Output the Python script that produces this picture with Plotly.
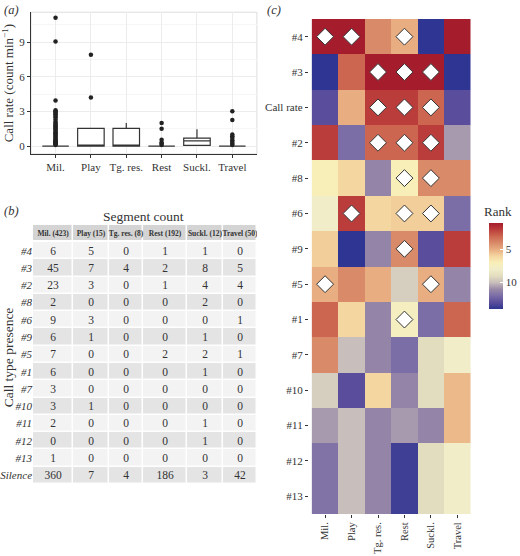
import plotly.graph_objects as go

# ---- panel (a): call rate per behaviour ----
behaviours = ["Mil.", "Play", "Tg. res.", "Rest", "Suckl.", "Travel"]
box_q1 = [0, 0, 0, 0, 0.06, 0]
box_median = [0, 0.05, 0.05, 0, 0.44, 0]
box_q3 = [0, 1.52, 1.52, 0, 0.68, 0]
box_low = [0, 0, 0, 0, 0, 0]
box_high = [0, 1.52, 2.0, 0, 1.46, 0]

mil_out = [11.1, 9.05, 3.95, 3.1, 3.0, 2.9, 2.8, 2.7, 2.6, 2.5, 2.3, 2.1, 2.0, 1.9,
           1.8, 1.7, 1.6, 1.5, 1.4, 1.3, 1.2, 1.1, 1.0, 0.9, 0.8, 0.7, 0.6, 0.5,
           0.45, 0.4, 0.35, 0.3, 0.25, 0.2, 0.15, 0.1]
play_out = [7.9, 4.2]
tgres_out = []
rest_out = [2.0, 1.5, 0.55, 0.3, 0.2, 0.1]
suckl_out = []
travel_out = [3.0, 2.25, 1.0, 0.85, 0.7, 0.5, 0.35, 0.2, 0.1]

# ---- panel (b): segment counts ----
table_cols = ["Mil. (423)", "Play (15)", "Tg. res. (8)", "Rest (192)", "Suckl. (12)", "Travel (50)"]
table_rows = ["#4", "#3", "#2", "#8", "#6", "#9", "#5", "#1", "#7", "#10", "#11", "#12", "#13", "Silence"]
cnt_mil = [6, 45, 23, 2, 9, 6, 7, 6, 3, 3, 2, 0, 1, 360]
cnt_play = [5, 7, 3, 0, 3, 1, 0, 0, 0, 1, 0, 0, 0, 7]
cnt_tgres = [0, 4, 0, 0, 0, 0, 0, 0, 0, 0, 0, 0, 0, 4]
cnt_rest = [1, 2, 1, 0, 0, 0, 2, 0, 0, 0, 0, 0, 0, 186]
cnt_suckl = [1, 8, 4, 2, 0, 1, 2, 1, 0, 0, 1, 1, 0, 3]
cnt_travel = [0, 5, 4, 0, 1, 0, 1, 0, 0, 0, 0, 0, 0, 42]
col_edges = [0, 40.5, 76.5, 110, 154, 190.5, 224]  # table column widths (layout)

# ---- panel (c): rank heatmap ----
rank_rows = ["#4", "#3", "Call rate", "#2", "#8", "#6", "#9", "#5", "#1", "#7", "#10", "#11", "#12", "#13"]
rank_mil = [1, 14, 13, 2, 7, 8, 5.8, 5, 3, 4, 9.5, 10.7, 11.8, 11.8]
rank_play = [1, 3, 5, 12, 6, 2, 14, 4, 6, 10, 13, 10, 10, 10]
rank_tgres = [4, 1, 2, 3, 11.2, 6, 11.2, 5, 11.2, 11.2, 6, 11.2, 11.2, 11.2]
rank_rest = [5, 1, 2, 3, 7, 5.8, 4, 9.5, 7.5, 12, 11.2, 10.7, 13.6, 13.6]
rank_suckl = [14, 1, 3, 2, 4, 5.8, 13, 5, 12, 9, 9, 11.2, 9, 9]
rank_travel = [1, 14, 13, 10.7, 4, 12, 2, 11.2, 3, 8, 5.3, 5.3, 8, 8]
diamond_row = ["#4", "#4", "#4", "#3", "#3", "#3", "Call rate", "Call rate", "Call rate",
               "#2", "#2", "#2", "#8", "#8", "#6", "#6", "#6", "#9", "#5", "#5", "#1"]
diamond_col = ["Mil.", "Play", "Rest", "Tg. res.", "Rest", "Suckl.", "Tg. res.", "Rest", "Suckl.",
               "Tg. res.", "Rest", "Suckl.", "Rest", "Suckl.", "Play", "Rest", "Suckl.", "Rest",
               "Mil.", "Suckl.", "Rest"]
rank_ticks = [5, 10]

serif = "Liberation Serif"
txt = "#333333"

rank_scale = [[0.0, "#a51d2d"], [1/13, "#bb3d3b"], [2/13, "#cc6650"], [3/13, "#d98a68"],
              [4/13, "#e8ad80"], [5/13, "#f4d6a0"], [6/13, "#f8eeb8"], [7/13, "#f0edc8"],
              [8/13, "#e3ddc0"], [9/13, "#c8bebc"], [10/13, "#9a8aa8"], [11/13, "#7b6da6"],
              [12/13, "#5a4e9c"], [1.0, "#2e3592"]]

fig = go.Figure()

# boxes
fig.add_trace(go.Box(x=behaviours, q1=box_q1, median=box_median, q3=box_q3,
                     lowerfence=box_low, upperfence=box_high, width=0.75, whiskerwidth=0,
                     fillcolor="white", line=dict(color="#333333", width=1.2),
                     boxpoints=False, xaxis="x", yaxis="y", showlegend=False,
                     hoverinfo="skip"))
out_x, out_y = [], []
for cat, vals in zip(behaviours, [mil_out, play_out, tgres_out, rest_out, suckl_out, travel_out]):
    out_x += [cat] * len(vals)
    out_y += vals
fig.add_trace(go.Scatter(x=out_x, y=out_y, mode="markers", xaxis="x", yaxis="y",
                         marker=dict(color="#222222", size=4.5), showlegend=False))

# table body + header as two text heatmaps
n = len(table_rows)
counts = [list(r) for r in zip(cnt_mil, cnt_play, cnt_tgres, cnt_rest, cnt_suckl, cnt_travel)]
stripes = [[i % 2] * 6 for i in range(n)]
fig.add_trace(go.Heatmap(x=col_edges, y=table_rows, z=stripes, text=counts,
                         texttemplate="%{text}", zmin=0, zmax=1,
                         colorscale=[[0, "#f3f3f3"], [1, "#e4e4e4"]], showscale=False,
                         xgap=1.5, ygap=1.5, xaxis="x3", yaxis="y3", hoverinfo="skip",
                         textfont=dict(family=serif, size=11.5, color=txt)))
fig.add_trace(go.Heatmap(x=col_edges, y=["header"], z=[[0] * 6],
                         text=[["<b>%s</b>" % c for c in table_cols]],
                         texttemplate="%{text}", zmin=0, zmax=1,
                         colorscale=[[0, "#d4d4d4"], [1, "#d4d4d4"]], showscale=False,
                         xgap=1.5, xaxis="x4", yaxis="y4", hoverinfo="skip",
                         textfont=dict(family=serif, size=7.5, color=txt)))

# rank heatmap (negated so rank 1 sits at the top of the colour bar)
rank_z = [[-v for v in r] for r in zip(rank_mil, rank_play, rank_tgres, rank_rest, rank_suckl, rank_travel)]
fig.add_trace(go.Heatmap(
    x=behaviours, y=rank_rows, z=rank_z, zmin=-14, zmax=-1,
    colorscale=rank_scale, reversescale=True, xaxis="x2", yaxis="y2", hoverinfo="skip",
    colorbar=dict(x=0.9404, xanchor="left", y=0.522, yanchor="middle", len=0.155,
                  thickness=14, outlinewidth=0, xpad=0, ypad=0,
                  tickvals=[-t for t in rank_ticks], ticktext=[str(t) for t in rank_ticks],
                  ticks="inside", tickcolor="white", ticklen=3,
                  tickfont=dict(family=serif, size=11, color=txt))))
fig.add_trace(go.Scatter(x=diamond_col, y=diamond_row, mode="markers", xaxis="x2", yaxis="y2",
                         marker=dict(symbol="diamond", size=13, color="white",
                                     line=dict(color="#333333", width=1)),
                         showlegend=False))

axfont = dict(family=serif, size=11, color=txt)
fig.update_layout(
    width=520, height=556, margin=dict(l=0, r=0, t=0, b=0, autoexpand=False),
    paper_bgcolor="white", plot_bgcolor="white",
    font=dict(family=serif, color=txt),
    xaxis=dict(domain=[0.0596, 0.494], anchor="y", tickfont=axfont, showline=True,
               linecolor="#333333", linewidth=1, ticks="outside", ticklen=3,
               tickcolor="#333333", showgrid=True, gridcolor="#ececec", zeroline=False,
               automargin=False),
    yaxis=dict(domain=[0.723, 0.978], anchor="x", range=[-0.69, 11.58], tickvals=[0, 3, 6, 9],
               tickfont=axfont, showline=True, linecolor="#333333", linewidth=1,
               ticks="outside", ticklen=3, tickcolor="#333333", gridcolor="#ececec",
               zeroline=False, minor=dict(dtick=1.5, showgrid=True, gridcolor="#f6f6f6"),
               title=dict(text="Call rate (count min<sup>−1</sup>)",
                          font=dict(family=serif, size=13, color=txt), standoff=4),
               automargin=False),
    xaxis2=dict(domain=[0.594, 0.905], anchor="y2", tickangle=-90,
                tickfont=dict(family=serif, size=10.5, color=txt),
                ticks="outside", ticklen=3, tickcolor="#333333", showgrid=False,
                zeroline=False, automargin=False),
    yaxis2=dict(domain=[0.0755, 0.9946], anchor="x2", autorange="reversed", tickfont=axfont,
                ticks="outside", ticklen=3, tickcolor="#333333", showgrid=False,
                zeroline=False, automargin=False),
    xaxis3=dict(domain=[0.0635, 0.494], anchor="y3", range=[col_edges[0], col_edges[-1]],
                showticklabels=False, showgrid=False, zeroline=False, automargin=False),
    yaxis3=dict(domain=[0.1295, 0.5647], anchor="x3", autorange="reversed",
                tickvals=table_rows, ticktext=["<i>%s</i>" % r for r in table_rows],
                tickfont=dict(family=serif, size=11, color=txt), ticks="",
                showgrid=False, zeroline=False, automargin=False),
    xaxis4=dict(domain=[0.0635, 0.494], anchor="y4", range=[col_edges[0], col_edges[-1]],
                showticklabels=False, showgrid=False, zeroline=False, automargin=False),
    yaxis4=dict(domain=[0.5675, 0.5953], anchor="x4", showticklabels=False,
                showgrid=False, zeroline=False, automargin=False),
    shapes=[dict(type="rect", xref="x domain", yref="y domain", x0=0, x1=1, y0=0, y1=1,
                 line=dict(color="#dddddd", width=1), layer="below")],
    annotations=[
        dict(text="<i>(a)</i>", x=0.004, y=0.998, xref="paper", yref="paper",
             xanchor="left", yanchor="top", showarrow=False, font=dict(size=12.5)),
        dict(text="<i>(b)</i>", x=0.004, y=0.637, xref="paper", yref="paper",
             xanchor="left", yanchor="top", showarrow=False, font=dict(size=12.5)),
        dict(text="<i>(c)</i>", x=0.51, y=0.998, xref="paper", yref="paper",
             xanchor="left", yanchor="top", showarrow=False, font=dict(size=12.5)),
        dict(text="Segment count", x=0.275, y=0.61, xref="paper", yref="paper",
             xanchor="center", yanchor="middle", showarrow=False, font=dict(size=13.5)),
        dict(text="Call type presence", x=0.017, y=0.357, xref="paper", yref="paper",
             textangle=-90, xanchor="center", yanchor="middle", showarrow=False,
             font=dict(size=13.5)),
        dict(text="Rank", x=0.958, y=0.619, xref="paper", yref="paper",
             xanchor="center", yanchor="middle", showarrow=False, font=dict(size=13)),
    ],
)

# the page body has a default 8px margin; drop it so the figure fills the window
fig.write_html("out.html", config={"displayModeBar": False},
               post_script="document.body.style.margin = '0';")
